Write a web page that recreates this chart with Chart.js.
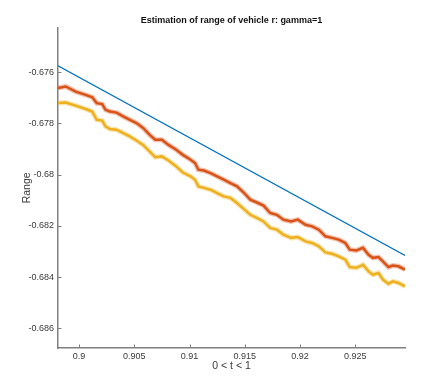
<!DOCTYPE html>
<html lang="en">
<head>
    <meta charset="UTF-8">
    <title>Estimation of range of vehicle r</title>
    <script src="https://cdn.jsdelivr.net/npm/chart.js"></script>
    <style>
        body { margin: 0; background: #fff; }
    </style>
</head>
<body>
    <canvas id="rangeChart" width="447" height="392"></canvas>

    <script>
// sample times shared by the two noisy estimates
const tSamples = [
    0.8981, 0.8988, 0.8997, 0.9006, 0.9012, 0.9016, 0.9021, 0.9024, 0.9028, 0.9034,
    0.9040, 0.9046, 0.9052, 0.9058, 0.9064, 0.9069, 0.9075, 0.9081, 0.9088, 0.9094,
    0.9101, 0.9105, 0.9108, 0.9113, 0.9119, 0.9125, 0.9131, 0.9137, 0.9143, 0.9149,
    0.9155, 0.9161, 0.9167, 0.9173, 0.9179, 0.9185, 0.9192, 0.9198, 0.9205, 0.9211,
    0.9217, 0.9223, 0.9229, 0.9235, 0.9241, 0.9245, 0.9251, 0.9257, 0.9262, 0.9266,
    0.9271, 0.9275, 0.9280, 0.9284, 0.9289, 0.9295
];
const rangeOrange = [
    -0.67662, -0.67656, -0.67676, -0.67689, -0.67698, -0.67721, -0.67725, -0.67747, -0.67754, -0.67758,
    -0.67773, -0.67786, -0.67799, -0.67818, -0.67845, -0.67864, -0.67864, -0.67884, -0.67903, -0.67923,
    -0.67942, -0.67955, -0.67981, -0.67984, -0.67994, -0.68007, -0.68020, -0.68033, -0.68046, -0.68070,
    -0.68098, -0.68109, -0.68121, -0.68150, -0.68157, -0.68176, -0.68183, -0.68176, -0.68196, -0.68202,
    -0.68215, -0.68241, -0.68247, -0.68254, -0.68267, -0.68293, -0.68296, -0.68286, -0.68313, -0.68325,
    -0.68322, -0.68339, -0.68361, -0.68355, -0.68358, -0.68371
];
const rangeYellow = [
    -0.67721, -0.67719, -0.67731, -0.67744, -0.67754, -0.67786, -0.67789, -0.67812, -0.67822, -0.67825,
    -0.67838, -0.67851, -0.67867, -0.67884, -0.67910, -0.67932, -0.67929, -0.67945, -0.67968, -0.67992,
    -0.68007, -0.68020, -0.68046, -0.68052, -0.68059, -0.68072, -0.68085, -0.68091, -0.68111, -0.68134,
    -0.68157, -0.68169, -0.68183, -0.68208, -0.68215, -0.68235, -0.68247, -0.68244, -0.68261, -0.68267,
    -0.68280, -0.68304, -0.68309, -0.68319, -0.68332, -0.68361, -0.68364, -0.68352, -0.68378, -0.68391,
    -0.68384, -0.68410, -0.68426, -0.68417, -0.68423, -0.68436
];
// true range (straight line)
const tTrue = [0.8981, 0.9295];
const rangeTrue = [-0.67575, -0.68316];

const toPoints = (xs, ys) => xs.map((x, i) => ({ x: x, y: ys[i] }));
const fmt = v => String(parseFloat(v.toFixed(4)));

const fontFamily = "'Liberation Sans Narrow', 'Liberation Sans', Arial, sans-serif";
const tickFont = { family: fontFamily, size: 9 };
const axisColor = "#808080";
const textColor = "#3a3a3a";

// MATLAB style ticks pointing into the plot
const inwardTicks = {
    id: "inwardTicks",
    afterDraw(chart) {
        const ctx = chart.ctx;
        const area = chart.chartArea;
        const xs = chart.scales.x, ys = chart.scales.y;
        ctx.save();
        ctx.strokeStyle = axisColor;
        ctx.lineWidth = 1;
        ctx.beginPath();
        xs.ticks.forEach(t => {
            const px = Math.round(xs.getPixelForValue(t.value)) + 0.5;
            ctx.moveTo(px, area.bottom);
            ctx.lineTo(px, area.bottom - 3.5);
        });
        ys.ticks.forEach(t => {
            const py = Math.round(ys.getPixelForValue(t.value)) + 0.5;
            ctx.moveTo(area.left, py);
            ctx.lineTo(area.left + 3.5, py);
        });
        ctx.stroke();
        ctx.restore();
    }
};

const ctx = document.getElementById("rangeChart").getContext("2d");
new Chart(ctx, {
    type: "line",
    data: {
        datasets: [
            { data: toPoints(tSamples, rangeYellow), borderColor: "rgba(237,177,32,0.35)", borderWidth: 5, pointRadius: 0 },
            { data: toPoints(tSamples, rangeYellow), borderColor: "#EDB120", borderWidth: 2.5, pointRadius: 0 },
            { data: toPoints(tSamples, rangeOrange), borderColor: "rgba(217,83,25,0.35)", borderWidth: 5, pointRadius: 0 },
            { data: toPoints(tSamples, rangeOrange), borderColor: "#D95319", borderWidth: 2.5, pointRadius: 0 },
            { data: toPoints(tTrue, rangeTrue), borderColor: "#0072BD", borderWidth: 1.3, pointRadius: 0 }
        ]
    },
    options: {
        responsive: false,
        animation: false,
        layout: { padding: { left: 0, right: 42, top: 0, bottom: 0 } },
        plugins: {
            legend: { display: false },
            tooltip: { enabled: false },
            title: {
                display: true,
                fullSize: false,
                text: "Estimation of range of vehicle r: gamma=1",
                color: "#111",
                font: { family: fontFamily, size: 9, weight: "bold" },
                padding: { top: 15.5, bottom: 1.5 }
            }
        },
        scales: {
            x: {
                type: "linear",
                min: 0.8981,
                max: 0.9295,
                afterFit: s => { s.height = 44; },
                grid: { display: false, drawTicks: false },
                border: { display: true, color: axisColor, width: 1.5 },
                ticks: {
                    stepSize: 0.005,
                    includeBounds: false,
                    padding: 3.5,
                    maxRotation: 0,
                    color: textColor,
                    font: tickFont,
                    callback: v => fmt(v)
                },
                title: {
                    display: true,
                    text: "0 < t < 1",
                    color: textColor,
                    font: { family: fontFamily, size: 10.5 },
                    padding: 19.5
                }
            },
            y: {
                min: -0.68677,
                max: -0.67427,
                afterFit: s => { s.width = 58; },
                grid: { display: false, drawTicks: false },
                border: { display: true, color: axisColor, width: 1.5 },
                ticks: {
                    stepSize: 0.002,
                    includeBounds: false,
                    padding: 4,
                    color: textColor,
                    font: tickFont,
                    callback: v => fmt(v)
                },
                title: {
                    display: true,
                    text: "Range",
                    color: textColor,
                    font: { family: fontFamily, size: 10.5 },
                    padding: 20.5
                }
            }
        }
    },
    plugins: [inwardTicks]
});
    </script>
</body>
</html>
